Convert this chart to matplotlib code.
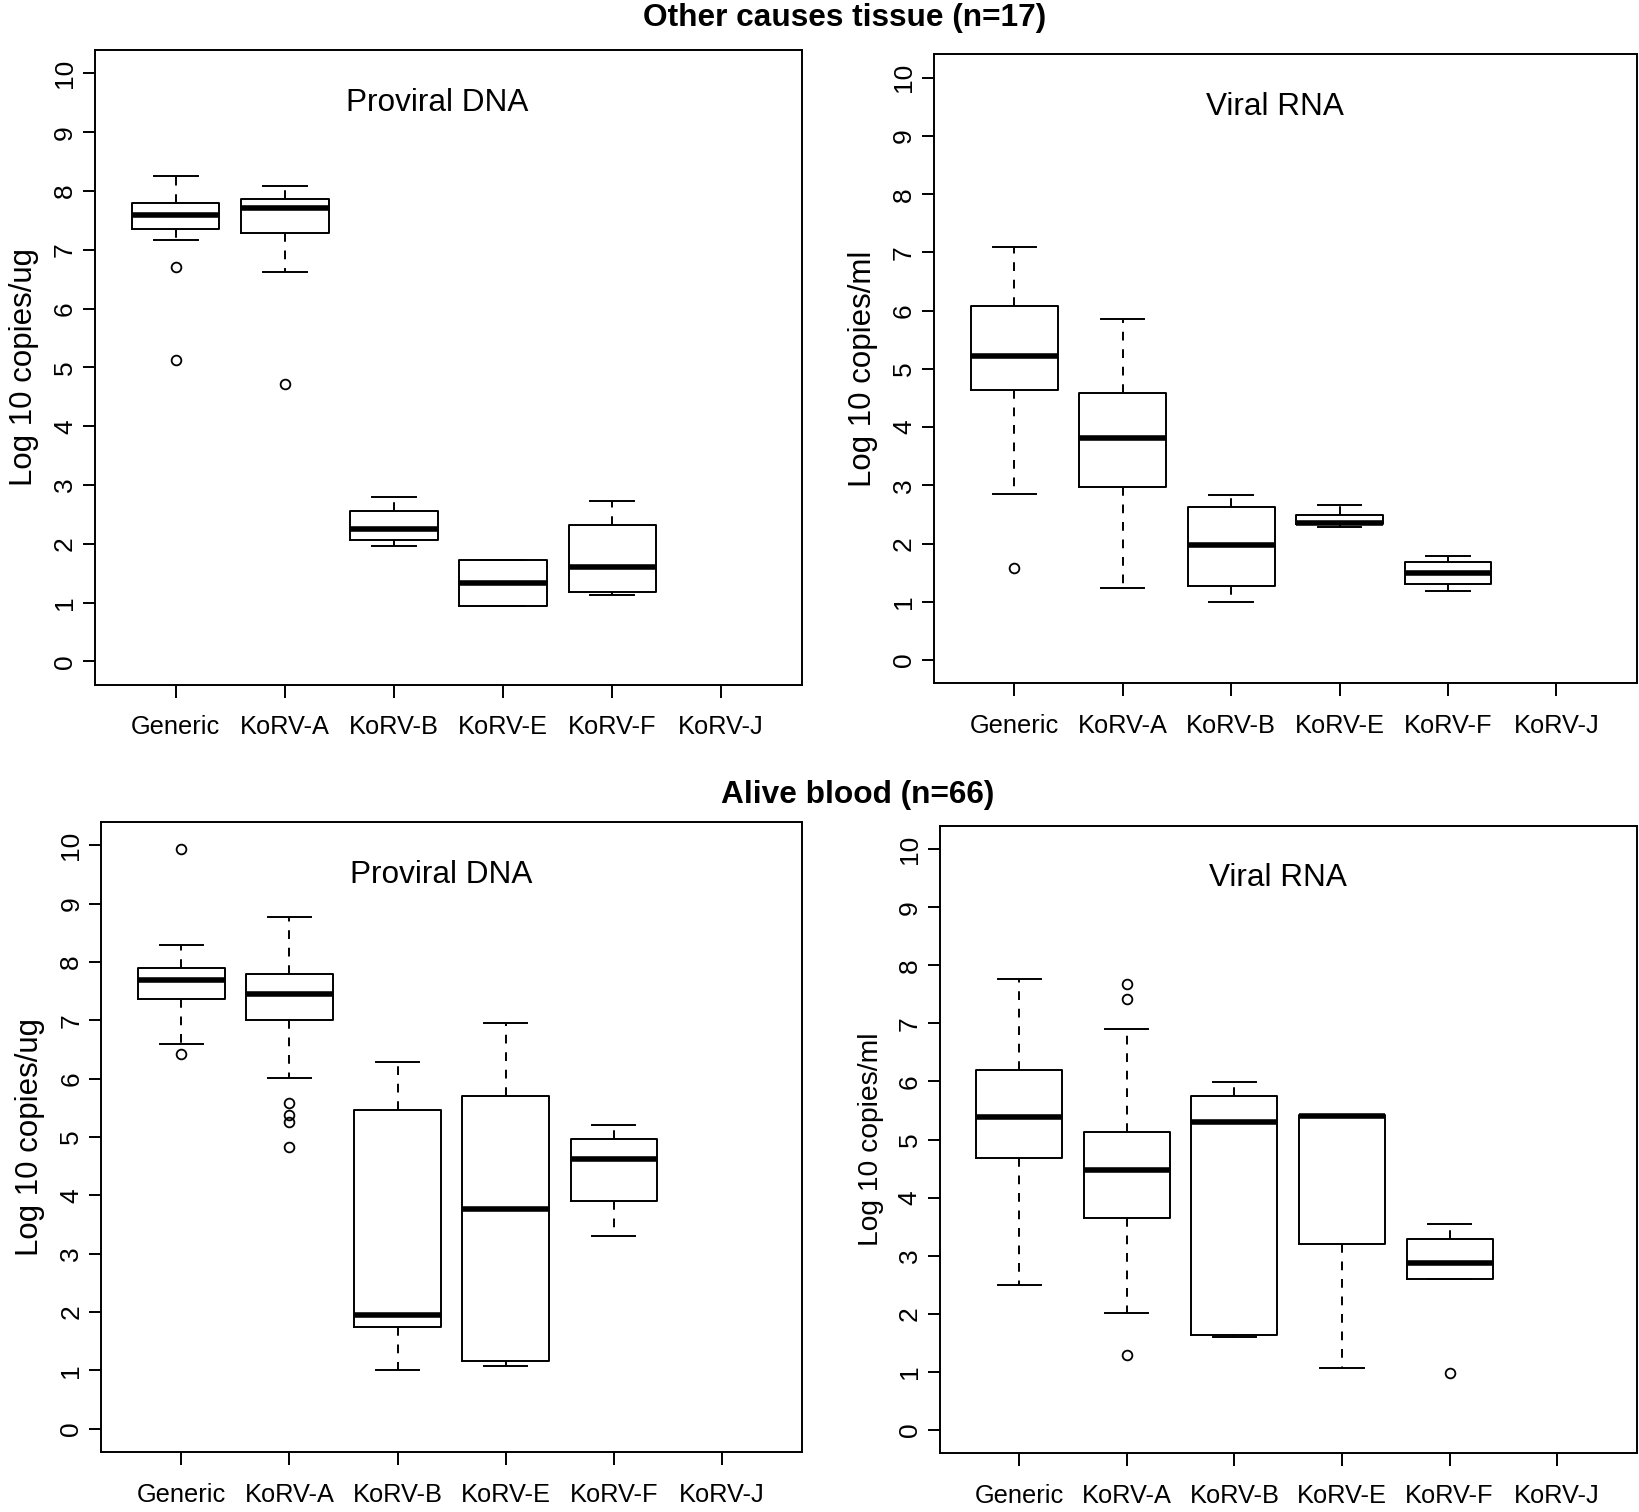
import matplotlib
matplotlib.use("Agg")
import matplotlib.pyplot as plt

plt.rcParams['font.family'] = ['Liberation Sans', 'DejaVu Sans']

groups = ["Generic", "KoRV-A", "KoRV-B", "KoRV-E", "KoRV-F", "KoRV-J"]

# per group: (whislo, q1, med, q3, whishi), fliers ; None = no data (KoRV-J)
tissue_dna = [
    (7.16, 7.35, 7.60, 7.79, 8.26),
    (6.62, 7.28, 7.71, 7.86, 8.09),
    (1.97, 2.07, 2.25, 2.55, 2.79),
    (0.95, 0.95, 1.33, 1.72, 1.72),
    (1.13, 1.18, 1.60, 2.32, 2.72),
    None,
]
tissue_dna_out = [[6.70, 5.13], [4.72], [], [], [], []]

tissue_rna = [
    (2.86, 4.63, 5.22, 6.08, 7.10),
    (1.24, 2.98, 3.82, 4.58, 5.85),
    (1.00, 1.27, 1.98, 2.63, 2.83),
    (2.28, 2.33, 2.36, 2.50, 2.66),
    (1.19, 1.31, 1.50, 1.69, 1.79),
    None,
]
tissue_rna_out = [[1.59], [], [], [], [], []]

blood_dna = [
    (6.59, 7.36, 7.69, 7.89, 8.29),
    (6.01, 7.00, 7.46, 7.79, 8.78),
    (1.01, 1.75, 1.95, 5.47, 6.29),
    (1.07, 1.16, 3.76, 5.70, 6.95),
    (3.30, 3.91, 4.63, 4.96, 5.20),
    None,
]
blood_dna_out = [[9.94, 6.42], [5.58, 5.38, 5.26, 4.83], [], [], [], []]

blood_rna = [
    (2.49, 4.69, 5.38, 6.19, 7.76),
    (2.01, 3.64, 4.48, 5.13, 6.91),
    (1.60, 1.63, 5.30, 5.75, 5.99),
    (1.07, 3.20, 5.40, 5.43, 5.43),
    (2.59, 2.59, 2.88, 3.28, 3.54),
    None,
]
blood_rna_out = [[], [7.68, 7.42, 1.28], [], [], [0.98], []]


def draw_panel(ax, stats, outliers, title, ylabel, ylab_size):
    bstats = []
    pos = []
    for i, (s, fl) in enumerate(zip(stats, outliers)):
        if s is None:
            continue
        bstats.append(dict(whislo=s[0], q1=s[1], med=s[2], q3=s[3], whishi=s[4], fliers=fl))
        pos.append(i + 1)
    ax.bxp(bstats, positions=pos, widths=0.8, capwidths=0.4,
           boxprops=dict(color='black', linewidth=1.4),
           whiskerprops=dict(color='black', linewidth=1.4, linestyle=(0, (4.5, 4.5))),
           capprops=dict(color='black', linewidth=1.4),
           medianprops=dict(color='black', linewidth=4.0, solid_capstyle='butt'),
           flierprops=dict(marker='o', markerfacecolor='none', markeredgecolor='black',
                           markersize=7, markeredgewidth=1.3))
    ax.set_xlim(0.26, 6.74)
    ax.set_ylim(-0.4, 10.4)
    ax.set_xticks(range(1, 7))
    ax.set_xticklabels(groups)
    ax.set_yticks(range(0, 11))
    ax.tick_params(axis='both', length=9, width=1.4, color='black')
    ax.tick_params(axis='x', pad=13, labelsize=18.3)
    ax.tick_params(axis='y', pad=4, labelsize=19)
    for lab in ax.get_yticklabels():
        lab.set_rotation(90)
        lab.set_va('center')
    for sp in ax.spines.values():
        sp.set_linewidth(1.4)
    ax.set_ylabel(ylabel, fontsize=ylab_size, labelpad=10)
    ax.text(3.4, 9.5, title, fontsize=22.7, ha='center', va='center')


fig = plt.figure(figsize=(16.4, 15.12), dpi=100)

ax1 = fig.add_axes([0.058, 0.547, 0.431, 0.420])
ax2 = fig.add_axes([0.5695, 0.548, 0.4285, 0.416])
ax3 = fig.add_axes([0.0618, 0.0397, 0.4272, 0.4166])
ax4 = fig.add_axes([0.573, 0.039, 0.425, 0.4147])

draw_panel(ax1, tissue_dna, tissue_dna_out, "Proviral DNA", "Log 10 copies/ug", 22.5)
draw_panel(ax2, tissue_rna, tissue_rna_out, "Viral RNA", "Log 10 copies/ml", 22.5)
draw_panel(ax3, blood_dna, blood_dna_out, "Proviral DNA", "Log 10 copies/ug", 22.5)
draw_panel(ax4, blood_rna, blood_rna_out, "Viral RNA", "Log 10 copies/ml", 20.3)

fig.text(845 / 1640, 1 - 18 / 1512, "Other causes tissue (n=17)", fontsize=22.8,
         fontweight='bold', ha='center', va='center')
fig.text(858 / 1640, 1 - 795 / 1512, "Alive blood (n=66)", fontsize=22.8,
         fontweight='bold', ha='center', va='center')

fig.savefig("out.png", dpi=100)
